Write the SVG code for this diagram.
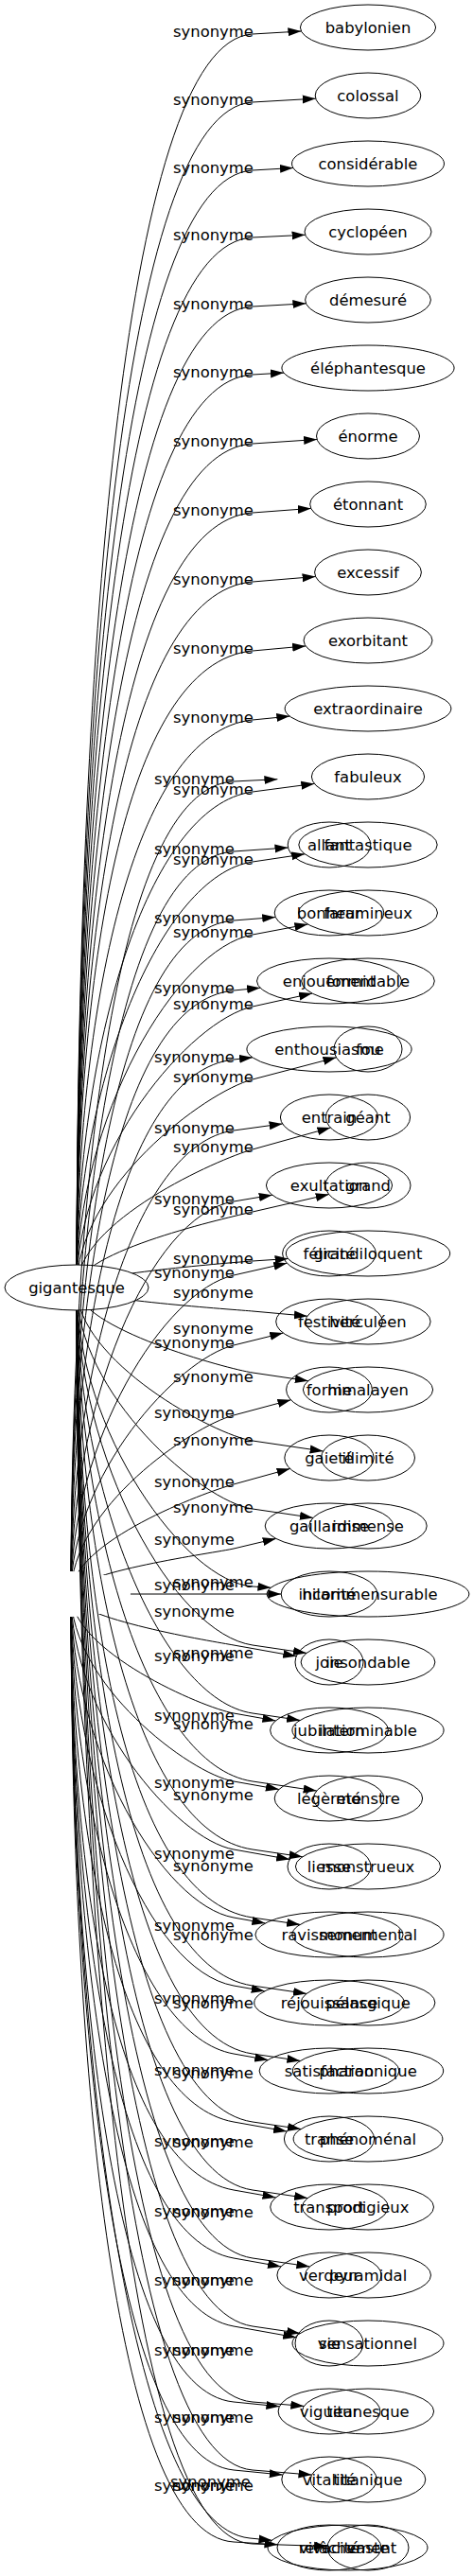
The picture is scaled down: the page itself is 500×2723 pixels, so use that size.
<svg xmlns="http://www.w3.org/2000/svg" width="500" height="2723" viewBox="0 0 500 2723">
<style>
.e{fill:none;stroke:#000;stroke-width:1;marker-end:url(#ah)}
.n{fill:none;stroke:#000;stroke-width:1}
text{font-family:"DejaVu Sans","Liberation Sans",sans-serif;font-size:16.4px;fill:#000}
.t{text-anchor:middle}
</style>
<defs>
<marker id="ah" markerUnits="userSpaceOnUse" markerWidth="14" markerHeight="10" refX="14" refY="5" orient="auto"><path d="M0,0.5 L14,5 L0,9.5 z" fill="#000"/></marker>
<mask id="m1" maskUnits="userSpaceOnUse" x="0" y="0" width="500" height="2723"><rect width="500" height="2723" fill="#fff"/><ellipse cx="81" cy="1361" rx="76" ry="24" fill="#000"/></mask>
<mask id="m2" maskUnits="userSpaceOnUse" x="0" y="0" width="500" height="2723"><rect width="500" height="2723" fill="#fff"/><ellipse cx="75" cy="1685" rx="63" ry="24" fill="#000"/></mask>
</defs>
<rect width="500" height="2723" fill="#fff"/>
<g id="connectors">
<g id="edges-gigantesque" mask="url(#m1)">
<path class="e" d="M81,1361 C81,725 127.8,44 267,36 L318.4,33"/>
<path class="e" d="M81,1361 C81,759.5 127.8,116 267,108 L333.7,104.2"/>
<path class="e" d="M81,1361 C81,794.1 127.8,188 267,180 L310,177.5"/>
<path class="e" d="M81,1361 C81,828.2 127.7,257.9 267,251 L322.6,248.3"/>
<path class="e" d="M81,1361 C81,863.2 127.8,332 267,324 L323.4,320.8"/>
<path class="e" d="M81,1361 C81,897.8 127.8,404 267,396 L300,394.1"/>
<path class="e" d="M81,1361 C81,932.8 127.8,478.1 267,469 L335.1,464.5"/>
<path class="e" d="M81,1361 C81,967.9 127.9,552.3 267,542 L328.8,537.4"/>
<path class="e" d="M81,1361 C81,1002.9 127.9,626.4 267,615 L333.6,609.5"/>
<path class="e" d="M81,1361 C81,1037.9 128,700.5 267,688 L323.1,682.9"/>
<path class="e" d="M81,1361 C81,1073 139.6,773.5 267,761 L306.3,757.1"/>
<path class="e" d="M81,1361 C81,1109.5 155.1,851.7 267,837 L332.3,828.4"/>
<path class="e" d="M81,1361 C81,1145 170,925.3 267,911 L322.2,902.8"/>
<path class="e" d="M81,1361 C81,1181.9 185.8,1003.3 267,988 L325.4,977"/>
<path class="e" d="M81,1361 C81,1218.4 201.2,1078.6 267,1064 L330,1050.1"/>
<path class="e" d="M81,1361 C81,1255.4 216.7,1154.2 267,1141 L355.5,1117.8"/>
<path class="e" d="M81,1361 C81,1290.9 231.2,1225 267,1215 L349.4,1192"/>
<path class="e" d="M81,1361 C81,1322.6 243.6,1286.4 267,1281 L347.7,1262.5"/>
<path class="e" d="M81,1361 C81,1347.5 253.4,1333.9 267,1333 L304.6,1330.5"/>
<path class="e" d="M81,1361 C81,1373 254.1,1384.8 267,1386 L324.9,1391.2"/>
<path class="e" d="M81,1361 C81,1404.2 241.3,1447.2 267,1451 L325.8,1459.7"/>
<path class="e" d="M81,1361 C81,1438.7 227,1517.1 267,1523 L341.6,1534"/>
<path class="e" d="M81,1361 C81,1473.3 212.8,1587 267,1595 L330.9,1604.4"/>
<path class="e" d="M81,1361 C81,1512.7 195.9,1672.3 267,1677 L286.4,1678.3"/>
<path class="e" d="M81,1361 C81,1542.4 184.3,1726.8 267,1739 L324,1747.4"/>
<path class="e" d="M81,1361 C81,1577 170,1796.7 267,1811 L317.1,1818.4"/>
<path class="e" d="M81,1361 C81,1611.5 155.8,1866.6 267,1883 L334.7,1893"/>
<path class="e" d="M81,1361 C81,1646.1 141.6,1936.5 267,1955 L319.7,1962.8"/>
<path class="e" d="M81,1361 C81,1680.7 129,2006.6 267,2027 L317.1,2034.4"/>
<path class="e" d="M81,1361 C81,1715.2 129,2078.6 267,2099 L324,2107.4"/>
<path class="e" d="M81,1361 C81,1749.8 129,2150.6 267,2171 L317.4,2178.4"/>
<path class="e" d="M81,1361 C81,1784.3 129,2222.6 267,2243 L318,2250.5"/>
<path class="e" d="M81,1361 C81,1818.9 129,2294.6 267,2315 L325.1,2323.6"/>
<path class="e" d="M81,1361 C81,1853.5 129,2366.6 267,2387 L327.4,2395.9"/>
<path class="e" d="M81,1361 C81,1888 129,2438.6 267,2459 L317.1,2466.4"/>
<path class="e" d="M81,1361 C81,1926.4 128,2527.6 267,2539 L321.3,2543.4"/>
<path class="e" d="M81,1361 C81,1961 128,2599.6 267,2611 L329.5,2616.1"/>
<path class="e" d="M81,1361 C81,1998.4 127.6,2684.4 267,2689 L346.1,2691.6"/>
</g>
<g id="edges-second" mask="url(#m2)">
<path class="e" d="M75,1685 C75,1272.7 118.2,832.4 247,826 L293.4,823.7"/>
<path class="e" d="M75,1685 C75,1308.2 118.3,908.9 247,900 L304.5,896"/>
<path class="e" d="M75,1685 C75,1343.2 118.4,983.2 247,973 L291.2,969.5"/>
<path class="e" d="M75,1685 C75,1378.8 118.6,1059.7 247,1047 L275.1,1044.2"/>
<path class="e" d="M75,1685 C75,1413.8 126.7,1133.1 247,1120 L267,1117.8"/>
<path class="e" d="M75,1685 C75,1449.8 142,1209.6 247,1195 L298.6,1187.9"/>
<path class="e" d="M75,1685 C75,1485.8 157.3,1285.1 247,1270 L287.7,1263.2"/>
<path class="e" d="M75,1685 C75,1523.2 173.5,1364.7 247,1348 L303.3,1335.2"/>
<path class="e" d="M75,1685 C75,1558.8 188.2,1436.6 247,1422 L299.3,1409.1"/>
<path class="e" d="M75,1685 C75,1594.3 202.8,1507.8 247,1496 L307.5,1479.8"/>
<path class="e" d="M75,1685 C75,1629.3 216.9,1577.3 247,1569 L306.6,1552.5"/>
<path class="e" d="M75,1685 C75,1662 229.9,1641.1 247,1637 L291.7,1626.4"/>
<path class="e" d="M75,1685 L297.2,1685"/>
<path class="e" d="M75,1685 C75,1710.9 228.5,1735.7 247,1739 L313.2,1750.8"/>
<path class="e" d="M75,1685 C75,1745.5 214.3,1805.2 247,1811 L291.4,1818.9"/>
<path class="e" d="M75,1685 C75,1780 200.1,1874.7 247,1883 L294.9,1891.5"/>
<path class="e" d="M75,1685 C75,1814.6 186,1944.1 247,1955 L306.2,1965.5"/>
<path class="e" d="M75,1685 C75,1849.2 171.8,2013.6 247,2027 L280.4,2033"/>
<path class="e" d="M75,1685 C75,1883.7 157.6,2083.1 247,2099 L279.7,2104.8"/>
<path class="e" d="M75,1685 C75,1918.3 143.4,2152.5 247,2171 L283.2,2177.5"/>
<path class="e" d="M75,1685 C75,1952.8 129.3,2222 247,2243 L303.1,2253"/>
<path class="e" d="M75,1685 C75,1987.4 120,2292.4 247,2315 L291.5,2322.9"/>
<path class="e" d="M75,1685 C75,2022 120,2364.4 247,2387 L297,2395.9"/>
<path class="e" d="M75,1685 C75,2056.5 120,2436.4 247,2459 L313.2,2470.8"/>
<path class="e" d="M75,1685 C75,2094.9 118.6,2526.3 247,2539 L295.4,2543.8"/>
<path class="e" d="M75,1685 C75,2129.5 118.6,2598.3 247,2611 L298.8,2616.1"/>
<path class="e" d="M75,1685 C75,2166 118.2,2679.4 247,2687 L293.5,2689.8"/>
<path class="e" d="M75,1685 C75,2164 135.6,2670.6 264,2683 L287.5,2685.3"/>
</g>
<g id="edge-labels">
<text x="183" y="39">synonyme</text>
<text x="183" y="111">synonyme</text>
<text x="183" y="183">synonyme</text>
<text x="183" y="254">synonyme</text>
<text x="183" y="327">synonyme</text>
<text x="183" y="399">synonyme</text>
<text x="183" y="472">synonyme</text>
<text x="183" y="545">synonyme</text>
<text x="183" y="618">synonyme</text>
<text x="183" y="691">synonyme</text>
<text x="183" y="764">synonyme</text>
<text x="183" y="840">synonyme</text>
<text x="183" y="914">synonyme</text>
<text x="183" y="991">synonyme</text>
<text x="183" y="1067">synonyme</text>
<text x="183" y="1144">synonyme</text>
<text x="183" y="1218">synonyme</text>
<text x="183" y="1284">synonyme</text>
<text x="183" y="1336">synonyme</text>
<text x="183" y="1372">synonyme</text>
<text x="183" y="1410">synonyme</text>
<text x="183" y="1461">synonyme</text>
<text x="183" y="1528">synonyme</text>
<text x="183" y="1599">synonyme</text>
<text x="183" y="1678">synonyme</text>
<text x="183" y="1753">synonyme</text>
<text x="183" y="1828">synonyme</text>
<text x="183" y="1903">synonyme</text>
<text x="183" y="1978">synonyme</text>
<text x="183" y="2051">synonyme</text>
<text x="183" y="2123">synonyme</text>
<text x="183" y="2197">synonyme</text>
<text x="183" y="2270">synonyme</text>
<text x="183" y="2344">synonyme</text>
<text x="183" y="2416">synonyme</text>
<text x="183" y="2490">synonyme</text>
<text x="183" y="2561">synonyme</text>
<text x="183" y="2633">synonyme</text>
<text x="163" y="829">synonyme</text>
<text x="163" y="903">synonyme</text>
<text x="163" y="976">synonyme</text>
<text x="163" y="1050">synonyme</text>
<text x="163" y="1123">synonyme</text>
<text x="163" y="1198">synonyme</text>
<text x="163" y="1273">synonyme</text>
<text x="163" y="1351">synonyme</text>
<text x="163" y="1425">synonyme</text>
<text x="163" y="1499">synonyme</text>
<text x="163" y="1572">synonyme</text>
<text x="163" y="1633">synonyme</text>
<text x="163" y="1681">synonyme</text>
<text x="163" y="1709">synonyme</text>
<text x="163" y="1756">synonyme</text>
<text x="163" y="1819">synonyme</text>
<text x="163" y="1890">synonyme</text>
<text x="163" y="1965">synonyme</text>
<text x="163" y="2041">synonyme</text>
<text x="163" y="2118">synonyme</text>
<text x="163" y="2194">synonyme</text>
<text x="163" y="2269">synonyme</text>
<text x="163" y="2343">synonyme</text>
<text x="163" y="2416">synonyme</text>
<text x="163" y="2490">synonyme</text>
<text x="163" y="2561">synonyme</text>
<text x="163" y="2633">synonyme</text>
<text x="180" y="2629">synonyme</text>
</g>
</g>
<g id="node-gigantesque"><ellipse class="n" cx="81" cy="1361" rx="76" ry="24"/><text class="t" x="81" y="1367">gigantesque</text></g>
<g id="node-babylonien"><ellipse class="n" cx="389" cy="29" rx="71.6" ry="24"/><text class="t" x="389" y="35">babylonien</text></g>
<g id="node-colossal"><ellipse class="n" cx="389" cy="101" rx="55.8" ry="24"/><text class="t" x="389" y="107">colossal</text></g>
<g id="node-considerable"><ellipse class="n" cx="389" cy="173" rx="80.5" ry="24"/><text class="t" x="389" y="179">considérable</text></g>
<g id="node-cyclopeen"><ellipse class="n" cx="389" cy="245" rx="67" ry="24"/><text class="t" x="389" y="251">cyclopéen</text></g>
<g id="node-demesure"><ellipse class="n" cx="389" cy="317" rx="66.4" ry="24"/><text class="t" x="389" y="323">démesuré</text></g>
<g id="node-elephantesque"><ellipse class="n" cx="389" cy="389" rx="91.1" ry="24"/><text class="t" x="389" y="395">éléphantesque</text></g>
<g id="node-enorme"><ellipse class="n" cx="389" cy="461" rx="54.5" ry="24"/><text class="t" x="389" y="467">énorme</text></g>
<g id="node-etonnant"><ellipse class="n" cx="389" cy="533" rx="61.3" ry="24"/><text class="t" x="389" y="539">étonnant</text></g>
<g id="node-excessif"><ellipse class="n" cx="389" cy="605" rx="56.4" ry="24"/><text class="t" x="389" y="611">excessif</text></g>
<g id="node-exorbitant"><ellipse class="n" cx="389" cy="677" rx="68" ry="24"/><text class="t" x="389" y="683">exorbitant</text></g>
<g id="node-extraordinaire"><ellipse class="n" cx="389" cy="749" rx="87.9" ry="24"/><text class="t" x="389" y="755">extraordinaire</text></g>
<g id="node-fabuleux"><ellipse class="n" cx="389" cy="821" rx="59.6" ry="24"/><text class="t" x="389" y="827">fabuleux</text></g>
<g id="node-fantastique"><ellipse class="n" cx="389" cy="893" rx="73.2" ry="24"/><text class="t" x="389" y="899">fantastique</text></g>
<g id="node-faramineux"><ellipse class="n" cx="389" cy="965" rx="73.5" ry="24"/><text class="t" x="389" y="971">faramineux</text></g>
<g id="node-formidable"><ellipse class="n" cx="389" cy="1037" rx="70.3" ry="24"/><text class="t" x="389" y="1043">formidable</text></g>
<g id="node-fou"><ellipse class="n" cx="389" cy="1109" rx="36" ry="24"/><text class="t" x="389" y="1115">fou</text></g>
<g id="node-geant"><ellipse class="n" cx="389" cy="1181" rx="44.6" ry="24"/><text class="t" x="389" y="1187">géant</text></g>
<g id="node-grand"><ellipse class="n" cx="389" cy="1253" rx="45" ry="24"/><text class="t" x="389" y="1259">grand</text></g>
<g id="node-grandiloquent"><ellipse class="n" cx="389" cy="1325" rx="86.7" ry="24"/><text class="t" x="389" y="1331">grandiloquent</text></g>
<g id="node-herculeen"><ellipse class="n" cx="389" cy="1397" rx="66.1" ry="24"/><text class="t" x="389" y="1403">herculéen</text></g>
<g id="node-himalayen"><ellipse class="n" cx="389" cy="1469" rx="68.6" ry="24"/><text class="t" x="389" y="1475">himalayen</text></g>
<g id="node-illimite"><ellipse class="n" cx="389" cy="1541" rx="49.5" ry="24"/><text class="t" x="389" y="1547">illimité</text></g>
<g id="node-immense"><ellipse class="n" cx="389" cy="1613" rx="62.2" ry="24"/><text class="t" x="389" y="1619">immense</text></g>
<g id="node-incommensurable"><ellipse class="n" cx="389" cy="1685" rx="106.9" ry="24"/><text class="t" x="389" y="1691">incommensurable</text></g>
<g id="node-insondable"><ellipse class="n" cx="389" cy="1757" rx="70.9" ry="24"/><text class="t" x="389" y="1763">insondable</text></g>
<g id="node-interminable"><ellipse class="n" cx="389" cy="1829" rx="80.1" ry="24"/><text class="t" x="389" y="1835">interminable</text></g>
<g id="node-monstre"><ellipse class="n" cx="389" cy="1901" rx="57.6" ry="24"/><text class="t" x="389" y="1907">monstre</text></g>
<g id="node-monstrueux"><ellipse class="n" cx="389" cy="1973" rx="76.6" ry="24"/><text class="t" x="389" y="1979">monstrueux</text></g>
<g id="node-monumental"><ellipse class="n" cx="389" cy="2045" rx="80.1" ry="24"/><text class="t" x="389" y="2051">monumental</text></g>
<g id="node-pelasgique"><ellipse class="n" cx="389" cy="2117" rx="70.9" ry="24"/><text class="t" x="389" y="2123">pélasgique</text></g>
<g id="node-pharaonique"><ellipse class="n" cx="389" cy="2189" rx="79.7" ry="24"/><text class="t" x="389" y="2195">pharaonique</text></g>
<g id="node-phenomenal"><ellipse class="n" cx="389" cy="2261" rx="78.9" ry="24"/><text class="t" x="389" y="2267">phénoménal</text></g>
<g id="node-prodigieux"><ellipse class="n" cx="389" cy="2333" rx="69.5" ry="24"/><text class="t" x="389" y="2339">prodigieux</text></g>
<g id="node-pyramidal"><ellipse class="n" cx="389" cy="2405" rx="66.5" ry="24"/><text class="t" x="389" y="2411">pyramidal</text></g>
<g id="node-sensationnel"><ellipse class="n" cx="389" cy="2477" rx="80" ry="24"/><text class="t" x="389" y="2483">sensationnel</text></g>
<g id="node-titanesque"><ellipse class="n" cx="389" cy="2549" rx="69.6" ry="24"/><text class="t" x="389" y="2555">titanesque</text></g>
<g id="node-titanique"><ellipse class="n" cx="389" cy="2621" rx="60.8" ry="24"/><text class="t" x="389" y="2627">titanique</text></g>
<g id="node-vaste"><ellipse class="n" cx="389" cy="2693" rx="43" ry="24"/><text class="t" x="389" y="2699">vaste</text></g>
<g id="node-allant"><ellipse class="n" cx="348" cy="893" rx="43.8" ry="24"/><text class="t" x="348" y="899">allant</text></g>
<g id="node-bonheur"><ellipse class="n" cx="348" cy="965" rx="57.8" ry="24"/><text class="t" x="348" y="971">bonheur</text></g>
<g id="node-enjouement"><ellipse class="n" cx="348" cy="1037" rx="76.5" ry="24"/><text class="t" x="348" y="1043">enjouement</text></g>
<g id="node-enthousiasme"><ellipse class="n" cx="348" cy="1109" rx="87.1" ry="24"/><text class="t" x="348" y="1115">enthousiasme</text></g>
<g id="node-entrain"><ellipse class="n" cx="348" cy="1181" rx="51.6" ry="24"/><text class="t" x="348" y="1187">entrain</text></g>
<g id="node-exultation"><ellipse class="n" cx="348" cy="1253" rx="66.6" ry="24"/><text class="t" x="348" y="1259">exultation</text></g>
<g id="node-felicite"><ellipse class="n" cx="348" cy="1325" rx="49.4" ry="24"/><text class="t" x="348" y="1331">félicité</text></g>
<g id="node-festivite"><ellipse class="n" cx="348" cy="1397" rx="56.3" ry="24"/><text class="t" x="348" y="1403">festivité</text></g>
<g id="node-forme"><ellipse class="n" cx="348" cy="1469" rx="45.4" ry="24"/><text class="t" x="348" y="1475">forme</text></g>
<g id="node-gaiete"><ellipse class="n" cx="348" cy="1541" rx="47.2" ry="24"/><text class="t" x="348" y="1547">gaieté</text></g>
<g id="node-gaillardise"><ellipse class="n" cx="348" cy="1613" rx="67.8" ry="24"/><text class="t" x="348" y="1619">gaillardise</text></g>
<g id="node-hilarite"><ellipse class="n" cx="348" cy="1685" rx="50.8" ry="24"/><text class="t" x="348" y="1691">hilarité</text></g>
<g id="node-joie"><ellipse class="n" cx="348" cy="1757" rx="36" ry="24"/><text class="t" x="348" y="1763">joie</text></g>
<g id="node-jubilation"><ellipse class="n" cx="348" cy="1829" rx="62.4" ry="24"/><text class="t" x="348" y="1835">jubilation</text></g>
<g id="node-legerete"><ellipse class="n" cx="348" cy="1901" rx="57.8" ry="24"/><text class="t" x="348" y="1907">légèreté</text></g>
<g id="node-liesse"><ellipse class="n" cx="348" cy="1973" rx="44" ry="24"/><text class="t" x="348" y="1979">liesse</text></g>
<g id="node-ravissement"><ellipse class="n" cx="348" cy="2045" rx="78.1" ry="24"/><text class="t" x="348" y="2051">ravissement</text></g>
<g id="node-rejouissance"><ellipse class="n" cx="348" cy="2117" rx="79.3" ry="24"/><text class="t" x="348" y="2123">réjouissance</text></g>
<g id="node-satisfaction"><ellipse class="n" cx="348" cy="2189" rx="73.9" ry="24"/><text class="t" x="348" y="2195">satisfaction</text></g>
<g id="node-transe"><ellipse class="n" cx="348" cy="2261" rx="47.6" ry="24"/><text class="t" x="348" y="2267">transe</text></g>
<g id="node-transport"><ellipse class="n" cx="348" cy="2333" rx="62.3" ry="24"/><text class="t" x="348" y="2339">transport</text></g>
<g id="node-verdeur"><ellipse class="n" cx="348" cy="2405" rx="55.1" ry="24"/><text class="t" x="348" y="2411">verdeur</text></g>
<g id="node-vie"><ellipse class="n" cx="348" cy="2477" rx="36" ry="24"/><text class="t" x="348" y="2483">vie</text></g>
<g id="node-vigueur"><ellipse class="n" cx="348" cy="2549" rx="53.9" ry="24"/><text class="t" x="348" y="2555">vigueur</text></g>
<g id="node-vitalite"><ellipse class="n" cx="348" cy="2621" rx="50.2" ry="24"/><text class="t" x="348" y="2627">vitalité</text></g>
<g id="node-vivacite"><ellipse class="n" cx="348" cy="2693" rx="55" ry="24"/><text class="t" x="348" y="2699">vivacité</text></g>
<g id="node-relachement"><ellipse class="n" cx="367.5" cy="2693" rx="84.5" ry="24"/><text class="t" x="367.5" y="2699">relâchement</text></g>
</svg>
